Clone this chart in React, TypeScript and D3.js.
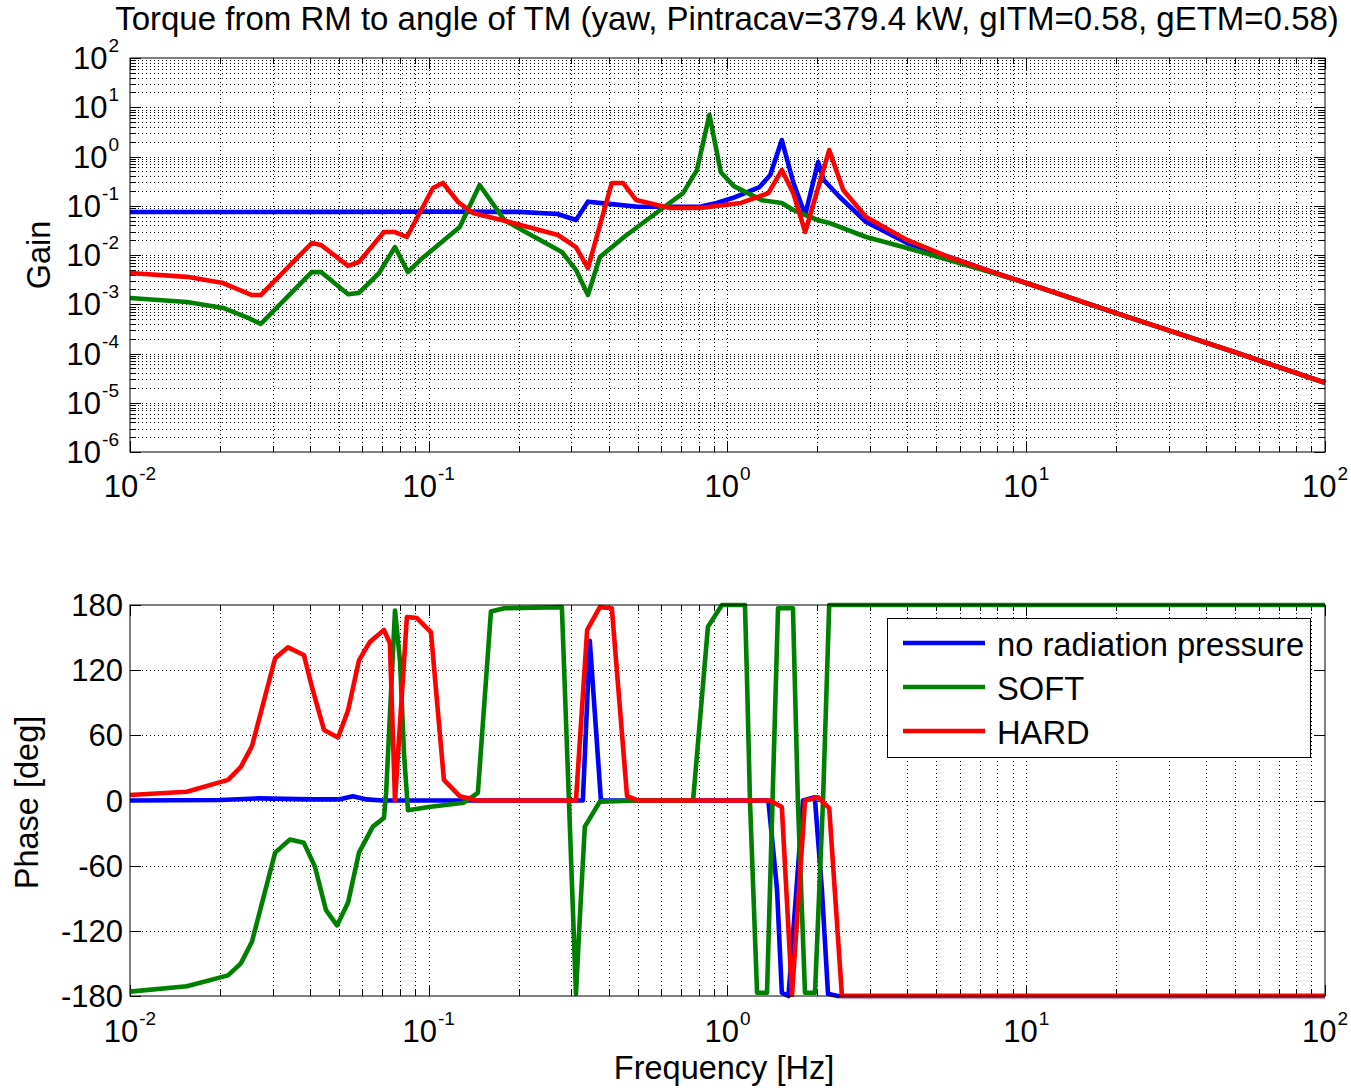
import React from "react";
import * as d3 from "d3";

type Pt = [number, number];

const TITLE = "Torque from RM to angle of TM (yaw, Pintracav=379.4 kW, gITM=0.58, gETM=0.58)";
const SERIES = ["no radiation pressure", "SOFT", "HARD"];
const COLORS = ["#0000ff", "#008000", "#ff0000"];
const freqDecades = [-2, -1, 0, 1, 2];
const gainDecades = [-6, -5, -4, -3, -2, -1, 0, 1, 2];
const phaseTicks = [-180, -120, -60, 0, 60, 120, 180];
const X_LABEL = "Frequency [Hz]";
const GAIN_LABEL = "Gain";
const PHASE_LABEL = "Phase [deg]";

// gain (frequency Hz, magnitude)
const gainNoRP: Pt[] = [
  [0.01, 0.0746], [0.02, 0.0746], [0.05, 0.075], [0.1, 0.076], [0.2, 0.075], [0.27, 0.068],
  [0.311, 0.0514], [0.341, 0.121], [0.41, 0.108], [0.5, 0.0957], [0.81, 0.0957], [0.92, 0.114],
  [1.04, 0.1435], [1.28, 0.24], [1.39, 0.42], [1.52, 2.16], [1.66, 0.3], [1.82, 0.0649],
  [2.01, 0.773], [2.1, 0.333], [2.37, 0.152], [2.91, 0.0468], [3.99, 0.0175], [5.51, 0.0091],
  [7.57, 0.0047], [10, 0.0027], [20, 0.00066], [50, 0.000106], [100, 2.55e-5],
];
const gainSoft: Pt[] = [
  [0.01, 0.00134], [0.0155, 0.00111], [0.0205, 0.00084], [0.0245, 0.00055], [0.0274, 0.0004],
  [0.0406, 0.0045], [0.0436, 0.0045], [0.0537, 0.0016], [0.0584, 0.0017], [0.0682, 0.0043],
  [0.0771, 0.0145], [0.0852, 0.0045], [0.0936, 0.0079], [0.127, 0.0371], [0.148, 0.264],
  [0.179, 0.0514], [0.205, 0.0322], [0.279, 0.0115], [0.311, 0.005], [0.341, 0.00154],
  [0.374, 0.0091], [0.454, 0.024], [0.6, 0.085], [0.71, 0.18], [0.79, 0.53], [0.87, 7.0],
  [0.95, 0.48], [1.05, 0.25], [1.3, 0.13], [1.52, 0.114], [1.66, 0.082], [2.0, 0.0514],
  [2.19, 0.0447], [2.91, 0.0232], [3.99, 0.0139], [5.51, 0.0079], [7.57, 0.0045], [10, 0.0027],
  [20, 0.00066], [50, 0.000106], [100, 2.55e-5],
];
const gainHard: Pt[] = [
  [0.01, 0.0043], [0.0155, 0.0036], [0.0205, 0.0027], [0.0256, 0.00154], [0.0274, 0.00154],
  [0.0406, 0.0175], [0.0436, 0.016], [0.0537, 0.006], [0.0584, 0.0072], [0.0708, 0.0293],
  [0.0771, 0.0293], [0.0845, 0.0232], [0.1033, 0.229], [0.1116, 0.29], [0.1254, 0.119],
  [0.1406, 0.0713], [0.1914, 0.0447], [0.2708, 0.0255], [0.311, 0.0145], [0.341, 0.0054],
  [0.41, 0.29], [0.447, 0.29], [0.494, 0.131], [0.642, 0.09], [0.81, 0.09], [1.11, 0.114],
  [1.37, 0.18], [1.52, 0.53], [1.66, 0.18], [1.82, 0.0293], [2.19, 1.35], [2.44, 0.209],
  [2.91, 0.0592], [3.99, 0.0202], [5.51, 0.0091], [7.57, 0.0047], [10, 0.0027], [20, 0.00066],
  [50, 0.000106], [100, 2.55e-5],
];

// phase (frequency Hz, degrees)
const phaseNoRP: Pt[] = [
  [0.01, 0], [0.02, 0.5], [0.027, 2], [0.04, 1], [0.05, 1], [0.0557, 4], [0.062, 1], [0.07, 0],
  [0.328, 0], [0.346, 147], [0.377, 0], [1.37, 0], [1.465, -82], [1.52, -177], [1.6, -180],
  [1.79, 0], [1.96, 3], [2.07, -82], [2.17, -178], [2.34, -180], [100, -180],
];
const phaseSoft: Pt[] = [
  [0.01, -176], [0.0155, -171], [0.0213, -161], [0.0235, -150], [0.0256, -130], [0.0306, -48],
  [0.0343, -36], [0.0382, -39], [0.0416, -61], [0.0453, -101], [0.0493, -115], [0.0537, -94],
  [0.0584, -48], [0.065, -24], [0.0708, -16], [0.072, 7], [0.0771, 175], [0.0802, 127],
  [0.0826, 44], [0.0852, -9], [0.1, -6], [0.131, -2], [0.146, 7], [0.1615, 174], [0.179, 177],
  [0.279, 178], [0.311, -178], [0.321, -104], [0.333, -24], [0.374, -1], [0.5, 0], [0.767, 0],
  [0.86, 160], [0.958, 180], [1.144, 180], [1.161, 117], [1.189, 0], [1.256, -177], [1.356, -177],
  [1.476, 177], [1.656, 177], [1.72, 0], [1.817, -177], [1.963, -177], [2.088, 0], [2.19, 180],
  [100, 180],
];
const phaseHard: Pt[] = [
  [0.01, 5], [0.0155, 8], [0.0213, 19], [0.0235, 31], [0.0256, 50], [0.0306, 131], [0.0338, 141],
  [0.0382, 134], [0.0406, 105], [0.0446, 65], [0.0497, 58], [0.0537, 83], [0.0584, 129],
  [0.0635, 146], [0.0708, 157], [0.0741, 145], [0.0771, 0], [0.0845, 169], [0.0913, 168],
  [0.1017, 155], [0.1124, 19], [0.127, 4], [0.146, 0], [0.311, 0], [0.339, 157], [0.374, 178],
  [0.41, 177], [0.461, 4], [0.501, 0], [1.39, 0], [1.52, -6], [1.644, -179], [1.817, 0],
  [2.01, 3], [2.19, -7], [2.416, -180], [100, -180],
];

const FONT = "'Liberation Sans', Arial, Helvetica, sans-serif";

function pow10(d: number, k: number) {
  return +(k * Math.pow(10, d)).toPrecision(12);
}

export default function App() {
  const W = 1351, H = 1088;
  const L = 130, R = 1325;
  const gT = 58, gB = 452;
  const pT = 605, pB = 996;
  const x = d3.scaleLog().domain([0.01, 100]).range([L, R]);
  const yG = d3.scaleLog().domain([1e-6, 1e2]).range([gB, gT]);
  const yP = d3.scaleLinear().domain([-180, 180]).range([pB, pT]);

  const fVals: { v: number; major: boolean }[] = [];
  for (let d = -2; d <= 1; d++) for (let k = 1; k <= 9; k++) fVals.push({ v: pow10(d, k), major: k === 1 });
  fVals.push({ v: 100, major: true });
  const gVals: { v: number; major: boolean }[] = [];
  for (let d = -6; d <= 1; d++) for (let k = 1; k <= 9; k++) gVals.push({ v: pow10(d, k), major: k === 1 });
  gVals.push({ v: 100, major: true });

  const lineG = d3.line<Pt>().x((d) => x(d[0])).y((d) => yG(d[1]));
  const lineP = d3.line<Pt>().x((d) => x(d[0])).y((d) => yP(d[1]));
  const gains = [gainNoRP, gainSoft, gainHard];
  const phases = [phaseNoRP, phaseSoft, phaseHard];

  const grid = { stroke: "#000", strokeWidth: 1, strokeDasharray: "1 3", shapeRendering: "crispEdges" as const };
  const tickMaj = 11, tickMin = 6;
  const fs = 31;
  const lw = 4.6;

  const expLabel = (e: number, props: any, key: string) => (
    <text key={key} {...props} fontSize={fs} fontFamily={FONT} fill="#000">
      <tspan>10</tspan>
      <tspan dy={-17} dx={1} fontSize={19}>{String(e)}</tspan>
    </text>
  );

  return (
    <svg width={W} height={H} style={{ position: "absolute", left: 0, top: 0, background: "#fff" }}>
      <rect x={0} y={0} width={W} height={H} fill="#fff" />
      <text x={727} y={30} textAnchor="middle" fontSize={33} fontFamily={FONT} fill="#000">{TITLE}</text>

      {/* ---- Gain axes ---- */}
      <g>
        {fVals.filter((t) => t.v > 0.01 && t.v < 100).map((t, i) => (
          <line key={"gx" + i} x1={Math.round(x(t.v)) + 0.5} x2={Math.round(x(t.v)) + 0.5} y1={gT} y2={gB} {...grid} />
        ))}
        {gVals.filter((t) => t.v > 1e-6 && t.v < 100).map((t, i) => (
          <line key={"gy" + i} x1={L} x2={R} y1={Math.round(yG(t.v)) + 0.5} y2={Math.round(yG(t.v)) + 0.5} {...grid} />
        ))}
        {fVals.map((t, i) => {
          const xx = Math.round(x(t.v)) + 0.5;
          const len = t.major ? tickMaj : tickMin;
          return (
            <g key={"gtx" + i} stroke="#000" strokeWidth={1}>
              <line x1={xx} x2={xx} y1={gB} y2={gB - len} />
              <line x1={xx} x2={xx} y1={gT} y2={gT + len} />
            </g>
          );
        })}
        {gVals.map((t, i) => {
          const yy = Math.round(yG(t.v)) + 0.5;
          const len = t.major ? tickMaj : tickMin;
          return (
            <g key={"gty" + i} stroke="#000" strokeWidth={1}>
              <line x1={L} x2={L + len} y1={yy} y2={yy} />
              <line x1={R} x2={R - len} y1={yy} y2={yy} />
            </g>
          );
        })}
        {gains.map((s, i) => (
          <path key={"gl" + i} d={lineG(s) || ""} fill="none" stroke={COLORS[i]} strokeWidth={lw} strokeLinejoin="round" />
        ))}
        <rect x={L} y={gT} width={R - L} height={gB - gT} fill="none" stroke="#000" strokeWidth={1} />
        {gainDecades.map((e) => expLabel(e, { x: 119, y: yG(Math.pow(10, e)) + 11, textAnchor: "end" }, "gyl" + e))}
        {freqDecades.map((e) => expLabel(e, { x: x(Math.pow(10, e)), y: gB + 45, textAnchor: "middle" }, "gxl" + e))}
        <text transform={`translate(50,${(gT + gB) / 2}) rotate(-90)`} textAnchor="middle" fontSize={32.5} fontFamily={FONT}>{GAIN_LABEL}</text>
      </g>

      {/* ---- Phase axes ---- */}
      <g>
        {fVals.filter((t) => t.v > 0.01 && t.v < 100).map((t, i) => (
          <line key={"px" + i} x1={Math.round(x(t.v)) + 0.5} x2={Math.round(x(t.v)) + 0.5} y1={pT} y2={pB} {...grid} />
        ))}
        {phaseTicks.filter((t) => t > -180 && t < 180).map((t) => (
          <line key={"py" + t} x1={L} x2={R} y1={Math.round(yP(t)) + 0.5} y2={Math.round(yP(t)) + 0.5} {...grid} />
        ))}
        {fVals.map((t, i) => {
          const xx = Math.round(x(t.v)) + 0.5;
          const len = t.major ? tickMaj : tickMin;
          return (
            <g key={"ptx" + i} stroke="#000" strokeWidth={1}>
              <line x1={xx} x2={xx} y1={pB} y2={pB - len} />
              <line x1={xx} x2={xx} y1={pT} y2={pT + len} />
            </g>
          );
        })}
        {phaseTicks.map((t) => {
          const yy = Math.round(yP(t)) + 0.5;
          return (
            <g key={"pty" + t} stroke="#000" strokeWidth={1}>
              <line x1={L} x2={L + tickMaj} y1={yy} y2={yy} />
              <line x1={R} x2={R - tickMaj} y1={yy} y2={yy} />
            </g>
          );
        })}
        {phases.map((s, i) => (
          <path key={"pl" + i} d={lineP(s) || ""} fill="none" stroke={COLORS[i]} strokeWidth={lw} strokeLinejoin="round" />
        ))}
        <rect x={L} y={pT} width={R - L} height={pB - pT} fill="none" stroke="#000" strokeWidth={1} />
        {phaseTicks.map((t) => (
          <text key={"pyl" + t} x={123} y={yP(t) + 11} textAnchor="end" fontSize={fs} fontFamily={FONT}>{String(t)}</text>
        ))}
        {freqDecades.map((e) => expLabel(e, { x: x(Math.pow(10, e)), y: pB + 46, textAnchor: "middle" }, "pxl" + e))}
        <text transform={`translate(38,${(pT + pB) / 2 + 2}) rotate(-90)`} textAnchor="middle" fontSize={32.5} fontFamily={FONT}>{PHASE_LABEL}</text>
        <text x={724} y={1079} textAnchor="middle" fontSize={32.5} fontFamily={FONT}>{X_LABEL}</text>

        {/* legend */}
        <rect x={887.5} y={618.5} width={423} height={139} fill="#fff" stroke="#000" strokeWidth={1} />
        {SERIES.map((name, i) => (
          <g key={"lg" + i}>
            <line x1={903} x2={985} y1={643 + i * 44} y2={643 + i * 44} stroke={COLORS[i]} strokeWidth={lw} />
            <text x={997} y={643 + i * 44 + 13} fontSize={32.7} fontFamily={FONT}>{name}</text>
          </g>
        ))}
      </g>
    </svg>
  );
}
